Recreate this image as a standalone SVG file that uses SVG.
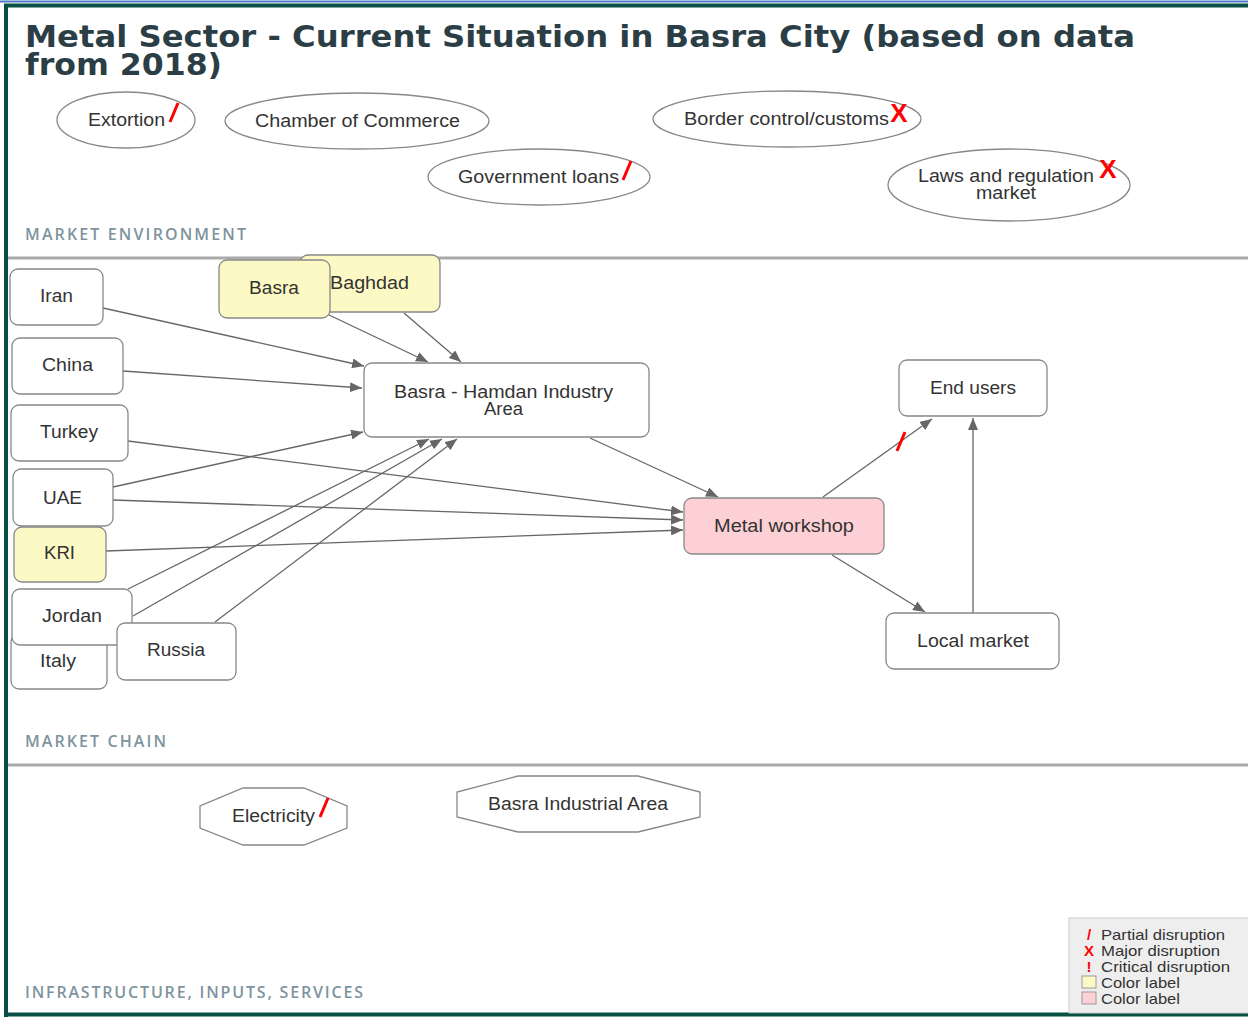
<svg xmlns="http://www.w3.org/2000/svg" width="1248" height="1017" viewBox="0 0 1248 1017">
<defs>
<style>
.t{font-family:"Liberation Sans",Arial,sans-serif;font-size:17.5px;fill:#333;text-anchor:middle}
.box{fill:#fff;stroke:#888;stroke-width:1.3}
.yel{fill:#fdf9c4;stroke:#888;stroke-width:1.3}
.pink{fill:#fdd0d5;stroke:#888;stroke-width:1.3}
.sec{font-family:"Open Sans","DejaVu Sans",sans-serif;font-size:16px;font-weight:600;fill:#7d949e}
.e{stroke:#666;stroke-width:1.3;fill:none;marker-end:url(#ah)}
.red{font-family:"Liberation Sans",Arial,sans-serif;font-weight:bold;fill:#f00}
.sep{stroke:#aaa;stroke-width:3}
.lg{font-family:"Liberation Sans",Arial,sans-serif;font-size:15px;fill:#333}
</style>
<marker id="ah" viewBox="0 0 12 10" refX="12" refY="5" markerWidth="12" markerHeight="10" markerUnits="userSpaceOnUse" orient="auto">
<path d="M0,0 L12,5 L0,10 z" fill="#666"/>
</marker>
</defs>
<rect x="0" y="0" width="1248" height="1017" fill="#fff"/>
<line x1="0" y1="1.5" x2="1248" y2="1.5" stroke="#4a78c8" stroke-width="2"/>
<path d="M6,1017 V5.5 H1248" fill="none" stroke="#0a4f44" stroke-width="4"/>
<line x1="4" y1="1014.5" x2="1248" y2="1014.5" stroke="#0a4f44" stroke-width="4"/>

<g id="title">
<text x="25" y="47" font-family="'DejaVu Sans',sans-serif" font-weight="bold" font-size="30" fill="#2c3e45" textLength="1110" lengthAdjust="spacingAndGlyphs">Metal Sector - Current Situation in Basra City (based on data</text>
<text x="25" y="75" font-family="'DejaVu Sans',sans-serif" font-weight="bold" font-size="30" fill="#2c3e45" textLength="197" lengthAdjust="spacingAndGlyphs">from 2018)</text>
</g>

<g id="sections">
<text class="sec" x="25" y="240" textLength="221" lengthAdjust="spacing">MARKET ENVIRONMENT</text>
<line class="sep" x1="8" y1="258" x2="1248" y2="258"/>
<text class="sec" x="25" y="747" textLength="141" lengthAdjust="spacing">MARKET CHAIN</text>
<line class="sep" x1="8" y1="765" x2="1248" y2="765"/>
<text class="sec" x="25" y="998" textLength="338" lengthAdjust="spacing">INFRASTRUCTURE, INPUTS, SERVICES</text>
</g>

<g id="connectors">
<line class="e" x1="103" y1="308" x2="364" y2="366"/>
<line class="e" x1="123" y1="371" x2="362" y2="388"/>
<line class="e" x1="128" y1="441" x2="683" y2="512"/>
<line class="e" x1="113" y1="487" x2="363" y2="432"/>
<line class="e" x1="113" y1="500" x2="683" y2="520"/>
<line class="e" x1="106" y1="551" x2="683" y2="530"/>
<line class="e" x1="327" y1="314" x2="428" y2="362"/>
<line class="e" x1="404" y1="313" x2="461" y2="362"/>
<line class="e" x1="128" y1="589" x2="429" y2="439"/>
<line class="e" x1="133" y1="616" x2="442" y2="439"/>
<line class="e" x1="215" y1="622" x2="457" y2="439"/>
<line class="e" x1="590" y1="438" x2="718" y2="497"/>
<line class="e" x1="823" y1="497" x2="932" y2="419"/>
<line class="e" x1="832" y1="555" x2="925" y2="612"/>
<line class="e" x1="973" y1="613" x2="973" y2="418"/>
<line x1="897" y1="451" x2="905" y2="432" stroke="#f00" stroke-width="3"/>
</g>

<g id="n-extortion"><ellipse class="box" cx="126" cy="120" rx="69" ry="28"/><text class="t" x="126.5" y="126" textLength="77" lengthAdjust="spacingAndGlyphs">Extortion</text><line x1="170" y1="122" x2="178" y2="103" stroke="#f00" stroke-width="3"/></g>
<g id="n-chamber"><ellipse class="box" cx="357" cy="121" rx="132" ry="28"/><text class="t" x="357.5" y="127" textLength="205" lengthAdjust="spacingAndGlyphs">Chamber of Commerce</text></g>
<g id="n-govloans"><ellipse class="box" cx="539" cy="177" rx="111" ry="28"/><text class="t" x="538.5" y="183" textLength="161" lengthAdjust="spacingAndGlyphs">Government loans</text><line x1="623" y1="180" x2="631" y2="161" stroke="#f00" stroke-width="3"/></g>
<g id="n-border"><ellipse class="box" cx="787" cy="119" rx="134" ry="28"/><text class="t" x="786.5" y="125" textLength="205" lengthAdjust="spacingAndGlyphs">Border control/customs</text><text class="red" x="899" y="122" font-size="26" text-anchor="middle">X</text></g>
<g id="n-laws"><ellipse class="box" cx="1009" cy="185" rx="121" ry="36"/><text class="t" x="1006" y="182" textLength="176" lengthAdjust="spacingAndGlyphs">Laws and regulation</text><text class="t" x="1006" y="199" textLength="60" lengthAdjust="spacingAndGlyphs">market</text><text class="red" x="1108" y="178" font-size="26" text-anchor="middle">X</text></g>

<g id="n-iran"><rect class="box" x="10" y="269" width="93" height="56" rx="8"/><text class="t" x="56.5" y="302" textLength="33" lengthAdjust="spacingAndGlyphs">Iran</text></g>
<g id="n-china"><rect class="box" x="12" y="338" width="111" height="56" rx="8"/><text class="t" x="67.5" y="371" textLength="51" lengthAdjust="spacingAndGlyphs">China</text></g>
<g id="n-turkey"><rect class="box" x="11" y="405" width="117" height="56" rx="8"/><text class="t" x="69" y="438" textLength="58" lengthAdjust="spacingAndGlyphs">Turkey</text></g>
<g id="n-uae"><rect class="box" x="13" y="469" width="100" height="57" rx="8"/><text class="t" x="62.5" y="504" textLength="39" lengthAdjust="spacingAndGlyphs">UAE</text></g>
<g id="n-kri"><rect class="yel" x="14" y="527" width="92" height="55" rx="8"/><text class="t" x="59.5" y="559" textLength="31" lengthAdjust="spacingAndGlyphs">KRI</text></g>
<g id="n-italy"><rect class="box" x="11" y="634" width="96" height="55" rx="8"/><text class="t" x="58" y="667" textLength="36" lengthAdjust="spacingAndGlyphs">Italy</text></g>
<g id="n-jordan"><rect class="box" x="12" y="589" width="120" height="56" rx="8"/><text class="t" x="72" y="622" textLength="60" lengthAdjust="spacingAndGlyphs">Jordan</text></g>
<g id="n-russia"><rect class="box" x="117" y="623" width="119" height="57" rx="8"/><text class="t" x="176" y="656" textLength="58" lengthAdjust="spacingAndGlyphs">Russia</text></g>
<g id="n-baghdad"><rect class="yel" x="300" y="255" width="140" height="57" rx="8"/><text class="t" x="369.5" y="289" textLength="79" lengthAdjust="spacingAndGlyphs">Baghdad</text></g>
<g id="n-basra"><rect class="yel" x="219" y="260" width="111" height="58" rx="8"/><text class="t" x="274" y="294" textLength="50" lengthAdjust="spacingAndGlyphs">Basra</text></g>
<g id="n-hamdan"><rect class="box" x="364" y="363" width="285" height="74" rx="8"/><text class="t" x="503.5" y="398" textLength="219" lengthAdjust="spacingAndGlyphs">Basra - Hamdan Industry</text><text class="t" x="503.5" y="415" textLength="39" lengthAdjust="spacingAndGlyphs">Area</text></g>
<g id="n-workshop"><rect class="pink" x="684" y="498" width="200" height="56" rx="8"/><text class="t" x="784" y="532" textLength="140" lengthAdjust="spacingAndGlyphs">Metal workshop</text></g>
<g id="n-endusers"><rect class="box" x="899" y="360" width="148" height="56" rx="8"/><text class="t" x="973" y="394" textLength="86" lengthAdjust="spacingAndGlyphs">End users</text></g>
<g id="n-localmarket"><rect class="box" x="886" y="613" width="173" height="56" rx="8"/><text class="t" x="973" y="647" textLength="112" lengthAdjust="spacingAndGlyphs">Local market</text></g>

<g id="n-electricity"><polygon class="box" points="243,788 304,788 347,806 347,828 304,845 243,845 200,828 200,806"/><text class="t" x="273.5" y="822" textLength="83" lengthAdjust="spacingAndGlyphs">Electricity</text><line x1="320" y1="817" x2="328" y2="798" stroke="#f00" stroke-width="3"/></g>
<g id="n-basraind"><polygon class="box" points="518,776 638,776 700,792 700,817 638,832 518,832 457,817 457,792"/><text class="t" x="578" y="810" textLength="180" lengthAdjust="spacingAndGlyphs">Basra Industrial Area</text></g>

<g id="legend">
<rect x="1069" y="918" width="182" height="95" fill="#eee" stroke="#ccc"/>
<text class="lg" x="1101" y="940" textLength="124" lengthAdjust="spacingAndGlyphs">Partial disruption</text>
<text class="lg" x="1101" y="956" textLength="119" lengthAdjust="spacingAndGlyphs">Major disruption</text>
<text class="lg" x="1101" y="972" textLength="129" lengthAdjust="spacingAndGlyphs">Critical disruption</text>
<text class="lg" x="1101" y="988" textLength="79" lengthAdjust="spacingAndGlyphs">Color label</text>
<text class="lg" x="1101" y="1004" textLength="79" lengthAdjust="spacingAndGlyphs">Color label</text>
<text class="red" x="1089" y="940" font-size="15" text-anchor="middle">/</text>
<text class="red" x="1089" y="956" font-size="15" text-anchor="middle">X</text>
<text class="red" x="1089" y="972" font-size="15" text-anchor="middle">!</text>
<rect x="1082" y="976" width="14" height="12" fill="#fdf9c4" stroke="#999"/>
<rect x="1082" y="992" width="14" height="12" fill="#fdd0d5" stroke="#999"/>
</g>
</svg>
